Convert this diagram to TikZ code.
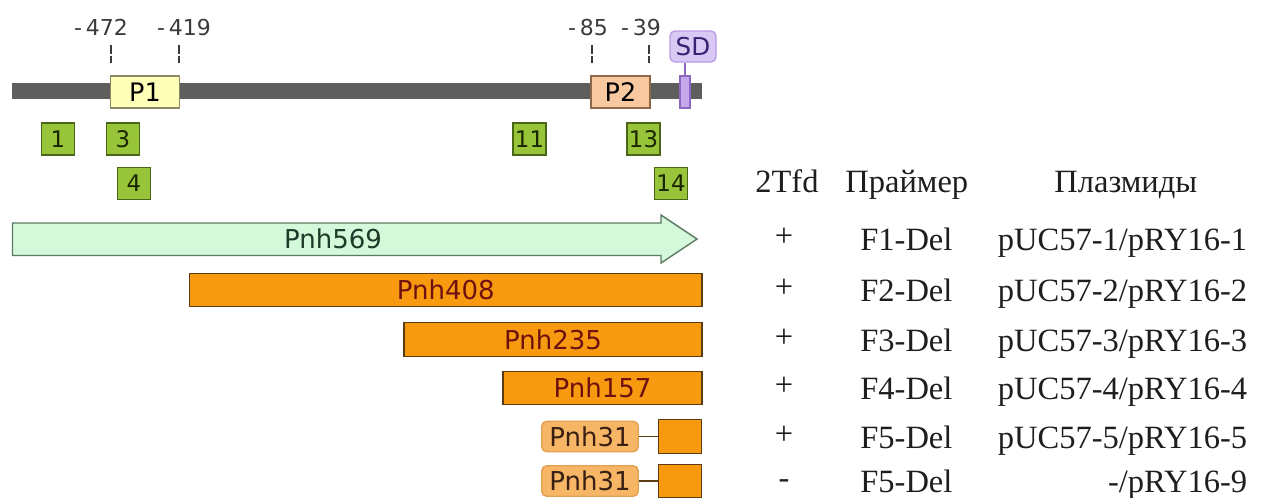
\documentclass[tikz,border=0pt]{standalone}
\usepackage{fontspec}
\setmainfont{Liberation Serif}
\setsansfont{DejaVu Sans}
\usetikzlibrary{calc,positioning}

\definecolor{barGray}{HTML}{5E5E5E}
\definecolor{pOneFill}{HTML}{FFFFB8}
\definecolor{pOneEdge}{HTML}{8A8A60}
\definecolor{pTwoFill}{HTML}{F8C8A0}
\definecolor{pTwoEdge}{HTML}{8A6848}
\definecolor{sdFill}{HTML}{C8A8EC}
\definecolor{sdEdge}{HTML}{8C68C0}
\definecolor{sdTagFill}{HTML}{D8C8F4}
\definecolor{sdTagEdge}{HTML}{B89CE4}
\definecolor{sdText}{HTML}{3A2070}
\definecolor{primerFill}{HTML}{98C43A}
\definecolor{primerEdge}{HTML}{4A6418}
\definecolor{primerText}{HTML}{1A2600}
\definecolor{arrowFill}{HTML}{D4F8DA}
\definecolor{arrowEdge}{HTML}{5C7A62}
\definecolor{arrowText}{HTML}{1E3A28}
\definecolor{fragFill}{HTML}{F89A10}
\definecolor{fragEdge}{HTML}{5A3C12}
\definecolor{fragText}{HTML}{6E1010}
\definecolor{tagFill}{HTML}{F7B665}
\definecolor{tagEdge}{HTML}{E2A050}
\definecolor{tagText}{HTML}{3A2014}
\definecolor{posText}{HTML}{3A3A3A}
\definecolor{tableText}{HTML}{1E1E1E}

\begin{document}
\begin{tikzpicture}[x=0.2mm,y=-0.2mm]

  \tikzstyle{dnabar} = [fill=barGray,inner sep=0,minimum width=138mm,minimum height=3.2mm]
  \tikzstyle{prombox} = [draw,line width=0.8pt,inner sep=0,minimum height=6.4mm,font=\sffamily\fontsize{14.5}{15}\selectfont]
  \tikzstyle{sdtag} = [draw=sdTagEdge,fill=sdTagFill,line width=0.8pt,rounded corners=1mm,inner sep=0,minimum width=9.2mm,minimum height=6.2mm,text=sdText,font=\sffamily\fontsize{14}{14}\selectfont]
  \tikzstyle{primerbox} = [draw=primerEdge,fill=primerFill,line width=0.8pt,inner sep=0,minimum width=6.6mm,minimum height=6.4mm,text=primerText,font=\sffamily\fontsize{13}{13}\selectfont]
  \tikzstyle{coordlabel} = [anchor=base,text=posText,font=\sffamily\fontsize{12.5}{13}\selectfont]
  \tikzstyle{dashtick} = [draw=posText,line width=0.6pt,dash pattern=on 1.7mm off 0.4mm]
  \tikzstyle{fragbox} = [draw=fragEdge,fill=fragFill,line width=0.8pt,inner sep=0,minimum height=6.7mm,text=fragText,font=\sffamily\fontsize{14.8}{15}\selectfont]
  \tikzstyle{fragtag} = [draw=tagEdge,fill=tagFill,line width=0.8pt,rounded corners=1mm,inner sep=0,minimum width=19.3mm,minimum height=6.1mm,text=tagText,font=\sffamily\fontsize{14.8}{15}\selectfont]
  \tikzstyle{tablecell} = [inner sep=0,text=tableText,font=\fontsize{18.5}{20}\selectfont]

  \useasboundingbox (0,0) rectangle (1262,497);

  % promoter region
  \node[dnabar] (dna) at (357,91) {};
  \node[prombox,draw=pOneEdge,fill=pOneFill,minimum width=13.7mm] (P1) at (145,92) {P1};
  \node[prombox,draw=pTwoEdge,fill=pTwoFill,minimum width=11.8mm] (P2) at (620.5,92) {P2};
  \node[prombox,draw=sdEdge,fill=sdFill,minimum width=2mm] (sd) at (685,92) {};
  \node[sdtag] (sdlab) at (693,46.5) {SD};
  \draw[sdEdge,line width=0.8pt] (sd.north) -- (sd.north |- sdlab.south);

  \node[coordlabel] (pos472) at (101,35) {-\,472};
  \node[coordlabel] (pos419) at (184,35) {-\,419};
  \node[coordlabel] (pos85) at (588,35) {-\,85};
  \node[coordlabel] (pos39) at (641,35) {-\,39};

  \foreach \t/\x in {472/111,419/179,85/592,39/649} {
    \coordinate (tktop\t) at (\x,45);
    \coordinate (tkbot\t) at (\x,63);
    \draw[dashtick] (tktop\t) -- (tkbot\t);
  }

  % primers
  \foreach \n/\x/\y in {1/58/139,3/123/139,11/529.5/139,13/643.5/139,4/134/183.5,14/671/183.5}
    \node[primerbox] (pr\n) at (\x,\y) {\n};

  % deletion fragments
  \draw[draw=arrowEdge,fill=arrowFill,line width=0.8pt] (12.5,223) -- (661,223) -- (661,215)
    -- (697,239) -- (661,263) -- (661,255.5) -- (12.5,255.5) -- cycle;
  \node[text=arrowText,font=\sffamily\fontsize{14.8}{15}\selectfont] (pnh569) at (333,239) {Pnh569};

  \node[fragbox,minimum width=102.5mm] (pnh408) at (445.75,290) {Pnh408};
  \node[fragbox,minimum width=59.6mm] (pnh235) at (553,339.5) {Pnh235};
  \node[fragbox,minimum width=39.8mm] (pnh157) at (602.5,388) {Pnh157};

  \foreach \r/\y in {5/436.5,6/481} {
    \node[fragtag] (tag\r) at (590,\y) {Pnh31};
    \node[fragbox,minimum width=8.7mm] (stub\r) at (680,\y) {};
    \draw[fragEdge,line width=0.8pt] (tag\r) -- (stub\r);
  }

  % table
  \node[tablecell,anchor=base west] (hdtfd) at (755,192) {2Tfd};
  \node[tablecell,anchor=base west] (hdprimer) at (845,192) {Праймер};
  \node[tablecell,anchor=base west] (hdplasmid) at (1054,192) {Плазмиды};

  \foreach \s/\f/\p/\y [count=\i] in {+/F1-Del/{pUC57-1/pRY16-1}/238.5,
                                      +/F2-Del/{pUC57-2/pRY16-2}/290,
                                      +/F3-Del/{pUC57-3/pRY16-3}/339.5,
                                      +/F4-Del/{pUC57-4/pRY16-4}/388,
                                      +/F5-Del/{pUC57-5/pRY16-5}/436.5,
                                      -/F5-Del/{-/pRY16-9}/481} {
    \node[tablecell,anchor=base] (sign\i) at (784,\y+7.5) {\s};
    \node[tablecell,anchor=base west] (primer\i) at (860,\y+11.5) {\f};
    \node[tablecell,anchor=base east] (plasmid\i) at (1247.5,\y+11.5) {\p};
  }

\end{tikzpicture}
\end{document}
